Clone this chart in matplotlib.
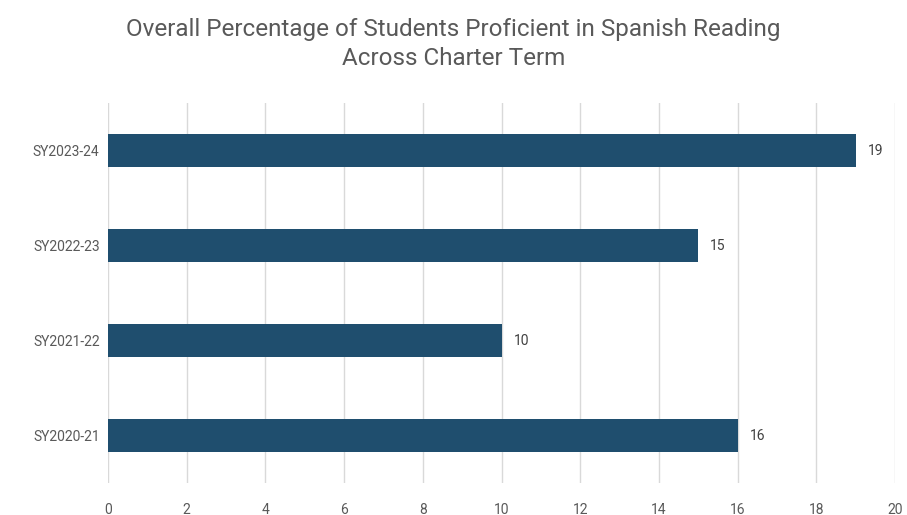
import matplotlib.pyplot as plt
from matplotlib import font_manager

years = ['SY2020-21', 'SY2021-22', 'SY2022-23', 'SY2023-24']
values = [16, 10, 15, 19]

names = {f.name for f in font_manager.fontManager.ttflist}
fam = 'Liberation Sans Narrow' if 'Liberation Sans Narrow' in names else 'Roboto'
plt.rcParams['font.family'] = [fam, 'DejaVu Sans']

fig = plt.figure(figsize=(9.07, 5.15), dpi=100)
ax = fig.add_axes([0.119, 0.062, 0.868, 0.738])

bars = ax.barh(years, values, height=0.34, color='#1f4e6e', zorder=3)
for b, v in zip(bars, values):
    ax.text(b.get_width() + 0.3, b.get_y() + b.get_height() / 2, str(v),
            va='center', ha='left', fontsize=10, color='#404040')

ax.set_xlim(0, 20)
ax.set_ylim(-0.5, 3.5)
ax.set_xticks(range(0, 21, 2))
ax.grid(axis='x', color='#d9d9d9', linewidth=1, zorder=0)
for s in ax.spines.values():
    s.set_visible(False)
ax.tick_params(axis='both', length=0, labelsize=10, labelcolor='#595959')
ax.tick_params(axis='x', pad=14)
ax.tick_params(axis='y', pad=6)

fig.suptitle('Overall Percentage of Students Proficient in Spanish Reading\nAcross Charter Term',
             y=0.965, fontsize=17.5, color='#595959', linespacing=1.35)

fig.savefig('out.png', dpi=100)
